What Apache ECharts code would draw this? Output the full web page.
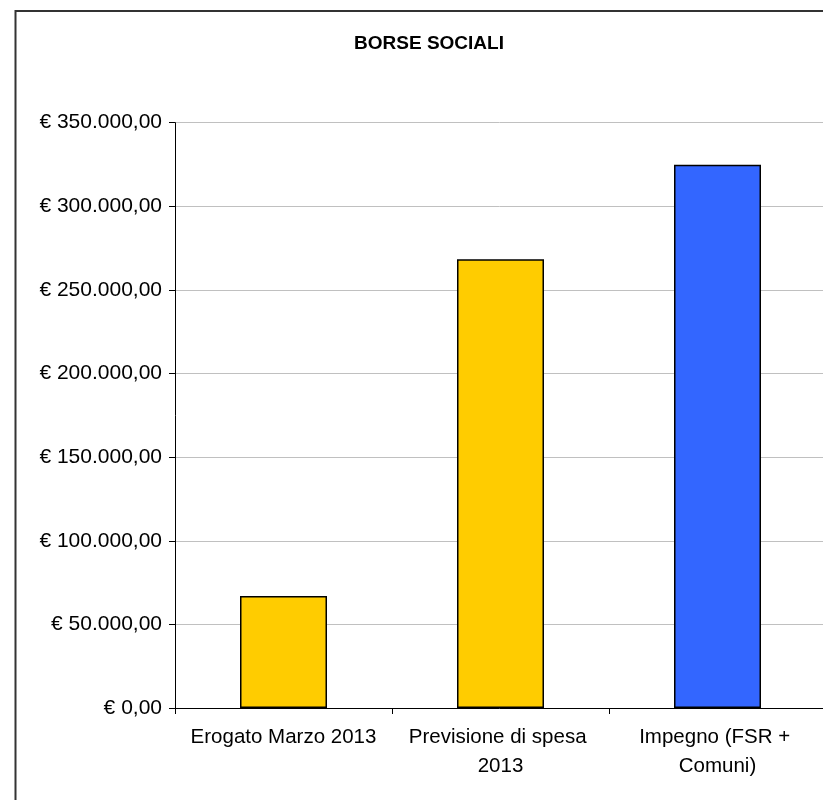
<!DOCTYPE html>
<html>
<head>
<meta charset="utf-8">
<script src="https://cdn.jsdelivr.net/npm/echarts@6/dist/echarts.min.js"></script>
<style>
html,body{margin:0;padding:0;background:#fff;}
#chart{width:823px;height:800px;}
</style>
</head>
<body>
<div id="chart"></div>
<script>
const chartTitle = 'BORSE SOCIALI';
const categories = ['Erogato Marzo 2013', 'Previsione di spesa 2013', 'Impegno (FSR + Comuni)'];
const values = [67000, 268300, 324900];
const barColors = ['#FFCC00', '#FFCC00', '#3366FF'];
const yMin = 0, yMax = 350000, yStep = 50000;

function euro(v) {
  const parts = Math.round(v).toString().replace(/\B(?=(\d{3})+(?!\d))/g, '.');
  return '€ ' + parts + ',00';
}

const chart = echarts.init(document.getElementById('chart'), null, {renderer: 'canvas'});
chart.setOption({
  backgroundColor: '#fff',
  animation: false,
  textStyle: {fontFamily: 'Liberation Sans, Arial, sans-serif'},
  graphic: [
    {type: 'rect', shape: {x: 15.5, y: 11, width: 900, height: 900}, style: {fill: 'none', stroke: '#333', lineWidth: 2}, silent: true},
    {type: 'text', x: 429, y: 44, style: {text: chartTitle, fill: '#000', font: 'bold 19px "Liberation Sans", Arial, sans-serif', textAlign: 'center', textVerticalAlign: 'middle'}}
  ],
  grid: {left: 175, top: 122.7, width: 651, height: 585.3, containLabel: false, outerBoundsMode: 'none'},
  xAxis: {
    type: 'category',
    data: categories,
    axisLine: {lineStyle: {color: '#000', width: 1}},
    axisTick: {show: true, length: 6, lineStyle: {color: '#000'}},
    axisLabel: {color: '#000', fontSize: 20.5, lineHeight: 29, margin: 15, width: 205, overflow: 'break', interval: 0, fontFamily: 'Liberation Sans'},
    splitLine: {show: false}
  },
  yAxis: {
    type: 'value',
    min: yMin, max: yMax, interval: yStep,
    axisLine: {show: true, lineStyle: {color: '#000', width: 1}},
    axisTick: {show: true, length: 6, lineStyle: {color: '#000'}},
    axisLabel: {color: '#000', fontSize: 21, margin: 13, formatter: euro, fontFamily: 'Liberation Sans'},
    splitLine: {show: true, lineStyle: {color: '#c0c0c0', width: 1}}
  },
  series: [{
    type: 'bar',
    barWidth: 87,
    data: values.map((v, i) => ({value: v, itemStyle: {color: barColors[i]}})),
    itemStyle: {borderColor: '#000', borderWidth: 1.5}
  }]
});
</script>
</body>
</html>
